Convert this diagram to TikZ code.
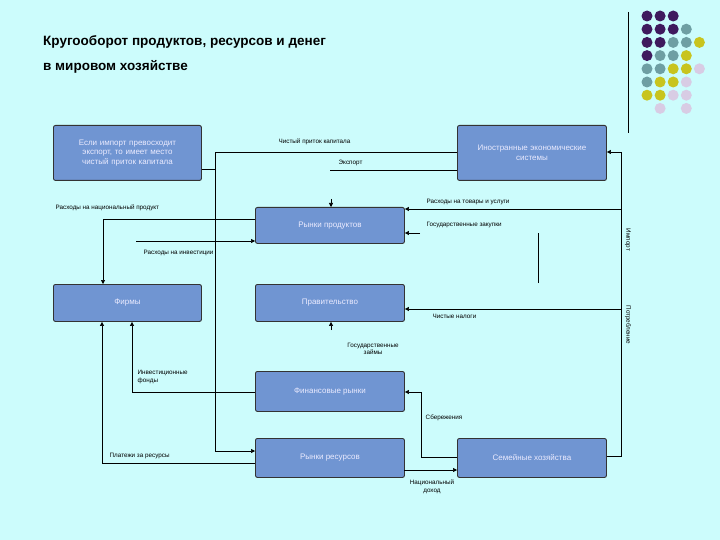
\documentclass[tikz,border=0pt]{standalone}
\usepackage{fontspec}
\setmainfont{Liberation Sans}
\usetikzlibrary{arrows.meta}
\definecolor{bg}{HTML}{CCFCFC}
\definecolor{boxf}{HTML}{7095D2}
\definecolor{dP}{HTML}{3F1A5E}
\definecolor{dT}{HTML}{6E9FA3}
\definecolor{dY}{HTML}{C8C41E}
\definecolor{dL}{HTML}{D8CCE4}
\tikzset{
  blk/.style={draw=black!80, line width=0.9pt, fill=boxf, rounded corners=2pt, text=white!92!blue, font=\fontsize{8}{9.5}\selectfont, align=center, anchor=north west},
  lbl/.style={font=\fontsize{6.3}{7.5}\selectfont, inner sep=0.5pt, align=left},
  ln/.style={line width=0.6pt},
  ar/.style={line width=0.6pt, -{Triangle[length=4pt,width=4pt]}},
  dot/.style={circle, minimum size=11pt, inner sep=0pt}
}
\begin{document}
\begin{tikzpicture}[x=1pt,y=-1pt]
\fill[bg] (0,0) rectangle (720,540);
\useasboundingbox (0,0) rectangle (720,540);
\node[font=\bfseries\fontsize{13.5}{25}\selectfont, anchor=north west, align=left, inner sep=0] (title) at (43,35) {Кругооборот продуктов, ресурсов и денег\\в мировом хозяйстве};
\draw[line width=1pt] (628,12) -- (628,133);
% dots
\foreach \r/\row in {0/{P,P,P},1/{P,P,P,T},2/{P,P,T,T,Y},3/{P,T,T,Y},4/{T,T,Y,Y,L},5/{T,Y,Y,L},6/{Y,Y,L,L}}{
  \foreach \c [count=\i from 0] in \row { \node[dot, fill=d\c] (d\r\i) at (647+13.1*\i,16+13.2*\r) {}; }
}
\node[dot, fill=dL] (d71) at (660.1,108.4) {};
\node[dot, fill=dL] (d73) at (686.3,108.4) {};
% boxes
\node[blk, minimum width=148pt, minimum height=55pt, text width=140pt] (note) at (53,125) {Если импорт превосходит\\экспорт, то имеет место\\чистый приток капитала};
\node[blk, minimum width=149pt, minimum height=55pt, text width=140pt] (fe) at (457,125) {Иностранные экономические\\системы};
\node[blk, minimum width=149pt, minimum height=36pt] (pm) at (255,207) {Рынки продуктов};
\node[blk, minimum width=148pt, minimum height=37pt] (firm) at (53,284) {Фирмы};
\node[blk, minimum width=149pt, minimum height=37pt] (gov) at (255,284) {Правительство};
\node[blk, minimum width=149pt, minimum height=40pt] (fm) at (255,371) {Финансовые рынки};
\node[blk, minimum width=149pt, minimum height=39pt] (rm) at (255,438) {Рынки ресурсов};
\node[blk, minimum width=149pt, minimum height=39pt] (hh) at (457,438) {Семейные хозяйства};
% coordinates
\coordinate (c1) at (215,152);
\coordinate (c2) at (215,451);
\coordinate (ex) at (330,170);
\coordinate (R1) at (621,152);
\coordinate (R2) at (621,456);
\coordinate (nl) at (103,219);
\coordinate (inv) at (136,241);
\coordinate (gp1) at (538,283);
\coordinate (gp2) at (538,233);
\coordinate (gp3) at (420,233);
\coordinate (pt) at (331,199);
\coordinate (gb) at (331,330);
\coordinate (f1) at (132,392);
\coordinate (f2) at (102,463);
\coordinate (s1) at (421,457);
\coordinate (s2) at (421,392);
\coordinate (ni) at (404,470);
% connectors
\draw[ln] (fe.west |- c1) -- (c1) -- (c2);
\draw[ar] (c2) -- (rm.west |- c2);
\draw[ln] (note.east |- 0,169) -- (215,169);
\draw[ln] (fe.west |- ex) -- (ex);
\draw[ar] (pt) -- (pm.north -| pt);
\draw[ln] (hh.east |- R2) -- (R2) -- (R1);
\draw[ar] (R1) -- (fe.east |- R1);
\draw[ar] (621,209) -- (pm.east |- 0,209);
\draw[ar] (621,309) -- (gov.east |- 0,309);
\draw[ln] (gp1) -- (gp2);
\draw[ar] (gp3) -- (pm.east |- gp3);
\draw[ar] (pm.west |- nl) -- (nl) -- (firm.north -| nl);
\draw[ar] (inv) -- (pm.west |- inv);
\draw[ar] (gb) -- (gov.south -| gb);
\draw[ar] (fm.west |- f1) -- (f1) -- (firm.south -| f1);
\draw[ar] (rm.west |- f2) -- (f2) -- (firm.south -| f2);
\draw[ar] (hh.west |- s1) -- (s1) -- (s2) -- (fm.east |- s2);
\draw[ar] (ni) -- (hh.west |- ni);
% labels
\node[lbl, anchor=west] (l1) at (278,142) {Чистый приток капитала};
\node[lbl, anchor=west] (l2) at (338,163) {Экспорт};
\node[lbl, anchor=west] (l3) at (426,202) {Расходы на товары и услуги};
\node[lbl, anchor=west] (l4) at (426,225) {Государственные закупки};
\node[lbl, anchor=west] (l5) at (55,208) {Расходы на национальный продукт};
\node[lbl, anchor=west] (l6) at (143,253) {Расходы на инвестиции};
\node[lbl, anchor=west] (l7) at (432,316) {Чистые налоги};
\node[lbl, align=center] (l8) at (373,349) {Государственные\\займы};
\node[lbl, anchor=west] (l9) at (137,377) {Инвестиционные\\фонды};
\node[lbl, anchor=west] (l10) at (425,418) {Сбережения};
\node[lbl, anchor=west] (l11) at (109,456) {Платежи за ресурсы};
\node[lbl, align=center] (l12) at (432,487) {Национальный\\доход};
\node[lbl, rotate=-90] (l13) at (628,240) {Импорт};
\node[lbl, rotate=-90] (l14) at (628,325) {Потребление};
\end{tikzpicture}
\end{document}
